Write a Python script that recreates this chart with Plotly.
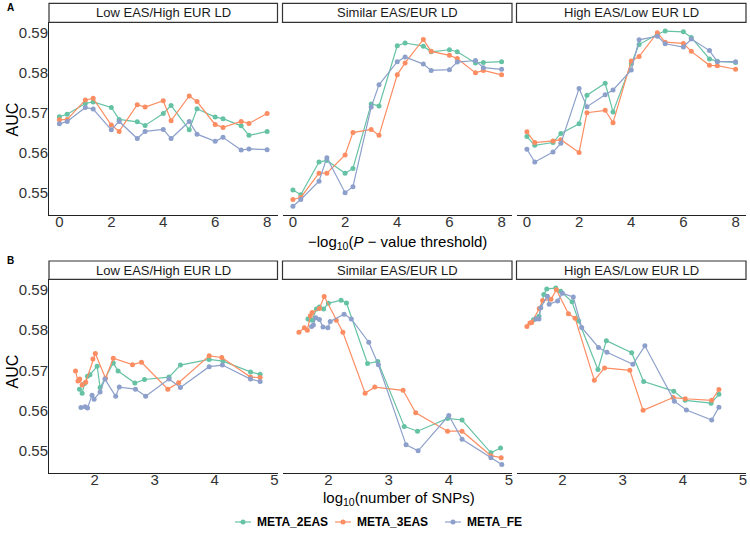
import plotly.graph_objects as go

# ---------------- data ----------------
neglog10_p = [0, 0.301, 1, 1.301, 2, 2.301, 3, 3.301, 4, 4.301, 5, 5.301, 6, 6.301, 7, 7.301, 8]

facets = ["Low EAS/High EUR LD", "Similar EAS/EUR LD", "High EAS/Low EUR LD"]
methods = ["META_2EAS", "META_3EAS", "META_FE"]
colors = ["#66C2A5", "#FC8D62", "#8DA0CB"]

# AUC by threshold (same order as neglog10_p)
auc_low_2eas = [0.5690, 0.5696, 0.5723, 0.5727, 0.5713, 0.5683, 0.5677, 0.5668, 0.5698, 0.5718, 0.5657, 0.5710, 0.5689, 0.5685, 0.5667, 0.5643, 0.5653]
auc_low_3eas = [0.5682, 0.5683, 0.5732, 0.5736, 0.5669, 0.5653, 0.5720, 0.5714, 0.5730, 0.5680, 0.5742, 0.5728, 0.5670, 0.5663, 0.5678, 0.5673, 0.5698]
auc_low_fe   = [0.5672, 0.5678, 0.5713, 0.5709, 0.5657, 0.5678, 0.5635, 0.5653, 0.5658, 0.5635, 0.5678, 0.5646, 0.5628, 0.5638, 0.5606, 0.5609, 0.5607]

auc_sim_2eas = [0.5506, 0.5494, 0.5576, 0.5580, 0.5548, 0.5560, 0.5722, 0.5717, 0.5868, 0.5875, 0.5867, 0.5853, 0.5858, 0.5853, 0.5825, 0.5826, 0.5828]
auc_sim_3eas = [0.5482, 0.5487, 0.5548, 0.5548, 0.5594, 0.5650, 0.5658, 0.5643, 0.5795, 0.5825, 0.5884, 0.5854, 0.5844, 0.5836, 0.5800, 0.5806, 0.5795]
auc_sim_fe   = [0.5465, 0.5482, 0.5528, 0.5587, 0.5499, 0.5514, 0.5714, 0.5770, 0.5828, 0.5840, 0.5822, 0.5806, 0.5808, 0.5827, 0.5831, 0.5813, 0.5809]

auc_high_2eas = [0.5640, 0.5618, 0.5625, 0.5648, 0.5672, 0.5744, 0.5774, 0.5702, 0.5823, 0.5871, 0.5897, 0.5905, 0.5903, 0.5889, 0.5835, 0.5829, 0.5826]
auc_high_3eas = [0.5652, 0.5625, 0.5629, 0.5632, 0.5600, 0.5700, 0.5706, 0.5675, 0.5830, 0.5841, 0.5901, 0.5877, 0.5874, 0.5854, 0.5819, 0.5818, 0.5809]
auc_high_fe   = [0.5608, 0.5576, 0.5601, 0.5623, 0.5761, 0.5715, 0.5745, 0.5757, 0.5807, 0.5883, 0.5892, 0.5873, 0.5865, 0.5885, 0.5856, 0.5828, 0.5828]

# log10(number of SNPs) by threshold
lsnp_low_2eas = [4.76, 4.60, 4.14, 3.91, 3.43, 3.24, 2.83, 2.67, 2.39, 2.31, 2.09, 2.04, 1.92, 1.88, 1.83, 1.79, 1.745]
lsnp_low_3eas = [4.76, 4.60, 4.12, 3.91, 3.40, 3.22, 2.78, 2.63, 2.31, 2.18, 2.01, 1.97, 1.85, 1.79, 1.75, 1.72, 1.68]
lsnp_low_fe   = [4.76, 4.60, 4.13, 3.91, 3.43, 3.24, 2.85, 2.68, 2.41, 2.35, 2.17, 2.09, 1.99, 1.955, 1.88, 1.84, 1.77]

lsnp_sim_2eas = [4.86, 4.70, 4.22, 3.98, 3.48, 3.26, 2.82, 2.65, 2.30, 2.21, 2.00, 1.92, 1.85, 1.80, 1.73, 1.70, 1.66]
lsnp_sim_3eas = [4.87, 4.70, 4.22, 3.98, 3.45, 3.24, 2.77, 2.61, 2.24, 2.13, 1.93, 1.85, 1.73, 1.70, 1.65, 1.60, 1.51]
lsnp_sim_fe   = [4.88, 4.70, 4.22, 4.00, 3.49, 3.29, 2.83, 2.67, 2.38, 2.26, 2.03, 1.99, 1.91, 1.85, 1.79, 1.75, 1.72]

lsnp_high_2eas = [4.60, 4.47, 4.04, 3.85, 3.35, 3.15, 2.73, 2.59, 2.27, 2.16, 1.97, 1.89, 1.74, 1.69, 1.61, 1.56, 1.52]
lsnp_high_3eas = [4.60, 4.48, 4.04, 3.84, 3.34, 3.12, 2.70, 2.53, 2.21, 2.10, 1.90, 1.81, 1.67, 1.615, 1.49, 1.46, 1.41]
lsnp_high_fe   = [4.60, 4.48, 4.06, 3.86, 3.37, 3.17, 2.74, 2.60, 2.32, 2.18, 2.00, 1.92, 1.78, 1.75, 1.64, 1.61, 1.56]

y_ticks = [0.55, 0.56, 0.57, 0.58, 0.59]
xA_ticks = [0, 2, 4, 6, 8]
xB_ticks = [2, 3, 4, 5]
xA_title = "\u2212log<sub>10</sub>(<i>P</i> \u2212 value threshold)"
xB_title = "log<sub>10</sub>(number of SNPs)"
y_title = "AUC"

auc = [[auc_low_2eas, auc_low_3eas, auc_low_fe],
       [auc_sim_2eas, auc_sim_3eas, auc_sim_fe],
       [auc_high_2eas, auc_high_3eas, auc_high_fe]]
lsnp = [[lsnp_low_2eas, lsnp_low_3eas, lsnp_low_fe],
        [lsnp_sim_2eas, lsnp_sim_3eas, lsnp_sim_fe],
        [lsnp_high_2eas, lsnp_high_3eas, lsnp_high_fe]]

# ---------------- layout geometry ----------------
W, H = 750, 535
FONT = "Liberation Sans, Arial, sans-serif"
facet_x = [(49, 277.5), (282.5, 512), (516.5, 746)]
panelA_y = (22.3, 215)     # top, bottom in px
panelB_y = (279.3, 473.3)
stripA = (3.3, 22.3)
stripB = (261, 279.3)

def px2x(p): return p / W
def px2y(p): return 1 - p / H

fig = go.Figure()
layout = {}
yrange = [0.5443, 0.5927]

def sorted_xy(xs, ys):
    pairs = sorted(zip(xs, ys))
    return [p[0] for p in pairs], [p[1] for p in pairs]

ax = 0
for panel in range(2):
    for f in range(3):
        ax += 1
        xa = "x" if ax == 1 else f"x{ax}"
        ya = "y" if ax == 1 else f"y{ax}"
        for m in range(3):
            if panel == 0:
                xs, ys = neglog10_p, auc[f][m]
            else:
                xs, ys = sorted_xy(lsnp[f][m], auc[f][m])
            fig.add_trace(go.Scatter(
                x=xs, y=ys, xaxis=xa, yaxis=ya, mode="lines+markers",
                line=dict(color=colors[m], width=1.2),
                marker=dict(color=colors[m], size=5),
                name=methods[m], showlegend=False))
        ytop, ybot = panelA_y if panel == 0 else panelB_y
        x0, x1 = facet_x[f]
        xkey = "xaxis" if ax == 1 else f"xaxis{ax}"
        ykey = "yaxis" if ax == 1 else f"yaxis{ax}"
        if panel == 0:
            xr, xt = [-0.4, 8.4], xA_ticks
        else:
            xr, xt = [1.237, 5.05], xB_ticks
        layout[xkey] = dict(domain=[px2x(x0), px2x(x1)], anchor=ya, range=xr,
                            tickvals=xt, ticktext=[str(t) for t in xt],
                            showline=True, linecolor="#222", linewidth=1,
                            ticks="", ticklen=0, ticklabelstandoff=-7,
                            tickfont=dict(family=FONT, size=15, color="#333"),
                            showgrid=False, zeroline=False, fixedrange=True,
                            automargin=False)
        layout[ykey] = dict(domain=[px2y(ybot), px2y(ytop)], anchor=xa, range=yrange,
                            tickvals=y_ticks, ticktext=[f"{v:.2f}" for v in y_ticks],
                            showline=(f == 0), linecolor="#222", linewidth=1,
                            ticks="", ticklen=0, ticklabelstandoff=-3,
                            showticklabels=(f == 0),
                            tickfont=dict(family=FONT, size=15, color="#333"),
                            showgrid=False, zeroline=False, fixedrange=True,
                            automargin=False)

shapes = []
annotations = []
for (s0, s1) in (stripA, stripB):
    for f in range(3):
        x0, x1 = facet_x[f]
        shapes.append(dict(type="rect", xref="paper", yref="paper",
                           x0=px2x(x0), x1=px2x(x1), y0=px2y(s1), y1=px2y(s0),
                           line=dict(color="#333", width=1.2), fillcolor="white"))
        annotations.append(dict(text=facets[f], xref="paper", yref="paper",
                                x=px2x((x0 + x1) / 2), y=px2y((s0 + s1) / 2),
                                showarrow=False, xanchor="center", yanchor="middle",
                                font=dict(family=FONT, size=13, color="#1a1a1a")))

# axis titles
annotations.append(dict(text=xA_title, xref="paper", yref="paper", x=px2x(397), y=px2y(242),
                        showarrow=False, xanchor="center", yanchor="middle",
                        font=dict(family=FONT, size=15, color="#000")))
annotations.append(dict(text=xB_title, xref="paper", yref="paper", x=px2x(399), y=px2y(498),
                        showarrow=False, xanchor="center", yanchor="middle",
                        font=dict(family=FONT, size=15, color="#000")))
for yc in (120, 372):
    annotations.append(dict(text=y_title, xref="paper", yref="paper", x=px2x(11.5), y=px2y(yc),
                            showarrow=False, xanchor="center", yanchor="middle", textangle=-90,
                            font=dict(family=FONT, size=16, color="#000")))

annotations.append(dict(text="<b>A</b>", xref="paper", yref="paper", x=px2x(5), y=px2y(8),
                        showarrow=False, xanchor="left", yanchor="middle",
                        font=dict(family=FONT, size=10, color="#000")))
annotations.append(dict(text="<b>B</b>", xref="paper", yref="paper", x=px2x(5), y=px2y(260),
                        showarrow=False, xanchor="left", yanchor="middle",
                        font=dict(family=FONT, size=10, color="#000")))

# legend (drawn manually to match compact ggplot keys)
leg_y = 522
leg_sym_x = [243, 343, 453]
for m in range(3):
    cx = leg_sym_x[m]
    shapes.append(dict(type="line", xref="paper", yref="paper",
                       x0=px2x(cx - 8), x1=px2x(cx + 8), y0=px2y(leg_y), y1=px2y(leg_y),
                       line=dict(color=colors[m], width=1.2)))
    shapes.append(dict(type="circle", xref="paper", yref="paper",
                       x0=px2x(cx - 2.5), x1=px2x(cx + 2.5), y0=px2y(leg_y + 2.5), y1=px2y(leg_y - 2.5),
                       line=dict(color=colors[m], width=0), fillcolor=colors[m]))
    annotations.append(dict(text="<b>" + methods[m] + "</b>", xref="paper", yref="paper",
                            x=px2x(cx + 12), y=px2y(leg_y), showarrow=False,
                            xanchor="left", yanchor="middle",
                            font=dict(family=FONT, size=12, color="#000")))

fig.update_layout(
    width=W, height=H, margin=dict(l=0, r=0, t=0, b=0, autoexpand=False),
    paper_bgcolor="white", plot_bgcolor="white",
    shapes=shapes, annotations=annotations,
    showlegend=False,
    **layout)

fig.write_html("out.html", config={"displayModeBar": False},
               post_script="document.body.style.margin='0px';document.body.style.padding='0px';")
